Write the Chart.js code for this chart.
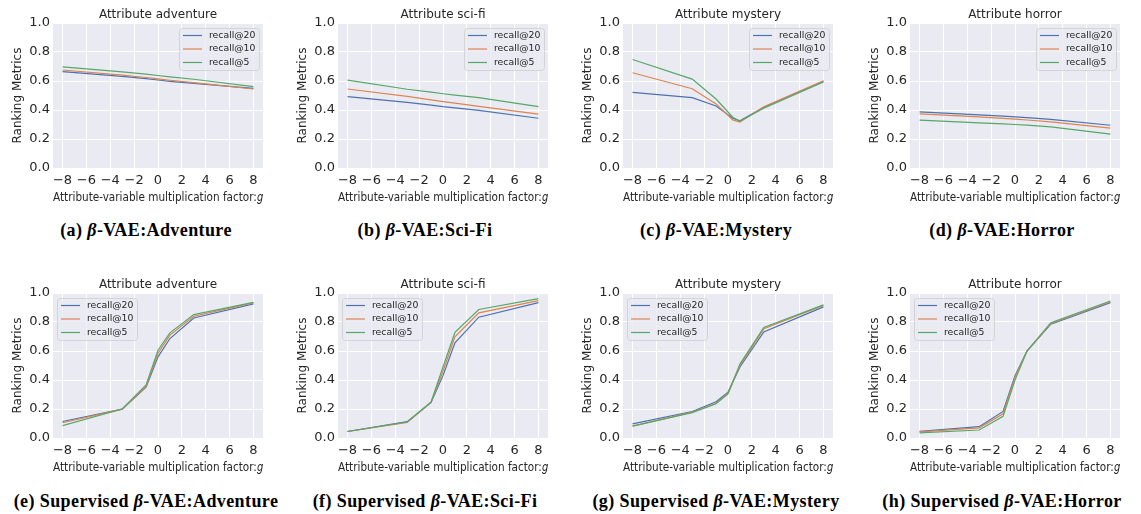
<!DOCTYPE html>
<html><head><meta charset="utf-8">
<script src="https://cdn.jsdelivr.net/npm/chart.js@4"></script>
<style>
body{margin:0;background:#fff;width:1141px;height:514px;position:relative;overflow:hidden}
.p{position:absolute;width:285px;height:205px}
.cap{position:absolute;font-family:"Liberation Serif",serif;font-weight:bold;font-size:18px;letter-spacing:0.4px;line-height:20px;color:#000;white-space:nowrap;transform:translateX(-50%)}
</style></head><body>
<script>
// ---- data ----
const xValues = [-8, -3, -1, 0, 1, 3, 8];
const xValuesVaeMystery = [-8, -3, -1, 0.4, 1, 3, 8];
const xTicks = [-8, -6, -4, -2, 0, 2, 4, 6, 8];
const yTicks = [0, 0.2, 0.4, 0.6, 0.8, 1.0];
const seriesLabels = ['recall@20', 'recall@10', 'recall@5'];
const panelTitles = ['Attribute adventure', 'Attribute sci-fi', 'Attribute mystery', 'Attribute horror'];
const captionsTop = ['(a) <i>β</i>-VAE:Adventure', '(b) <i>β</i>-VAE:Sci-Fi', '(c) <i>β</i>-VAE:Mystery', '(d) <i>β</i>-VAE:Horror'];
const captionsBottom = ['(e) Supervised <i>β</i>-VAE:Adventure', '(f) Supervised <i>β</i>-VAE:Sci-Fi', '(g) Supervised <i>β</i>-VAE:Mystery', '(h) Supervised <i>β</i>-VAE:Horror'];
const yAxisTitle = 'Ranking Metrics';
const xAxisTitle = 'Attribute-variable multiplication factor:𝑔';

const vaeAdventure20 = [0.665, 0.632, 0.617, 0.607, 0.598, 0.584, 0.549];
const vaeAdventure10 = [0.676, 0.641, 0.624, 0.614, 0.605, 0.589, 0.545];
const vaeAdventure5  = [0.697, 0.663, 0.647, 0.638, 0.629, 0.612, 0.561];

const vaeScifi20 = [0.492, 0.452, 0.434, 0.423, 0.414, 0.397, 0.343];
const vaeScifi10 = [0.545, 0.494, 0.470, 0.458, 0.447, 0.425, 0.371];
const vaeScifi5  = [0.606, 0.543, 0.523, 0.512, 0.502, 0.485, 0.423];

const vaeMystery20 = [0.522, 0.485, 0.428, 0.343, 0.325, 0.419, 0.598];
const vaeMystery10 = [0.657, 0.547, 0.442, 0.332, 0.316, 0.423, 0.602];
const vaeMystery5  = [0.748, 0.613, 0.476, 0.350, 0.323, 0.412, 0.593];

const vaeHorror20 = [0.387, 0.367, 0.358, 0.352, 0.347, 0.336, 0.295];
const vaeHorror10 = [0.373, 0.352, 0.342, 0.337, 0.331, 0.318, 0.275];
const vaeHorror5  = [0.330, 0.311, 0.304, 0.300, 0.296, 0.284, 0.233];

const supAdventure20 = [0.114, 0.199, 0.350, 0.560, 0.686, 0.828, 0.925];
const supAdventure10 = [0.105, 0.199, 0.355, 0.585, 0.710, 0.840, 0.932];
const supAdventure5  = [0.085, 0.200, 0.366, 0.605, 0.725, 0.851, 0.935];

const supScifi20 = [0.045, 0.113, 0.245, 0.430, 0.657, 0.833, 0.934];
const supScifi10 = [0.045, 0.108, 0.245, 0.460, 0.698, 0.863, 0.948];
const supScifi5  = [0.045, 0.110, 0.248, 0.490, 0.728, 0.886, 0.961];

const supMystery20 = [0.098, 0.183, 0.250, 0.315, 0.490, 0.732, 0.904];
const supMystery10 = [0.082, 0.178, 0.240, 0.310, 0.500, 0.753, 0.915];
const supMystery5  = [0.082, 0.175, 0.236, 0.305, 0.510, 0.762, 0.918];

const supHorror20 = [0.046, 0.078, 0.183, 0.430, 0.600, 0.785, 0.934];
const supHorror10 = [0.042, 0.070, 0.167, 0.420, 0.600, 0.790, 0.940];
const supHorror5  = [0.035, 0.055, 0.149, 0.400, 0.598, 0.795, 0.945];

// ---- styling ----
const colors = ['#4C72B0', '#DD8452', '#55A868'];
const colLeft = [0, 285, 570, 857];
const rowTop = [0, 270];
const capCenter = [146, 425, 716, 1002];
const capTop = [220, 491];
const FONT = '"DejaVu Sans", sans-serif';
const TXT = '#262626';

const bgPlugin = {
  id: 'bg',
  beforeDraw(chart) {
    const {ctx, chartArea: a} = chart;
    ctx.save(); ctx.fillStyle = '#EAEAF2';
    ctx.fillRect(a.left, a.top, a.right - a.left, a.bottom - a.top);
    ctx.restore();
  }
};
const titlePlugin = {
  id: 'panelTitle',
  afterDraw(chart, args, opts) {
    const ctx = chart.ctx, a = chart.chartArea;
    ctx.save();
    ctx.font = '12px ' + FONT; ctx.fillStyle = TXT;
    ctx.textAlign = 'center'; ctx.textBaseline = 'middle';
    ctx.fillText(opts.text, (a.left + a.right) / 2, a.top - 8.5);
    ctx.restore();
  }
};
const legendPlugin = {
  id: 'insideLegend',
  afterDatasetsDraw(chart, args, opts) {
    const ctx = chart.ctx, a = chart.chartArea;
    const w = 80, h = 42;
    const x = opts.side === 'right' ? a.right - 4 - w : a.left + 4;
    const y = a.top + 5;
    ctx.save();
    ctx.beginPath();
    ctx.roundRect(x + 0.5, y + 0.5, w, h, 3);
    ctx.fillStyle = 'rgba(234,234,242,0.8)';
    ctx.fill();
    ctx.strokeStyle = 'rgba(204,204,204,0.9)';
    ctx.lineWidth = 0.8;
    ctx.stroke();
    ctx.font = '9.3px ' + FONT;
    ctx.textBaseline = 'middle';
    chart.data.datasets.forEach((ds, i) => {
      const cy = y + 7.5 + i * 13.5;
      ctx.strokeStyle = ds.borderColor; ctx.lineWidth = 1.2;
      ctx.beginPath(); ctx.moveTo(x + 4, cy); ctx.lineTo(x + 23, cy); ctx.stroke();
      ctx.fillStyle = TXT; ctx.fillText(ds.label, x + 30, cy);
    });
    ctx.restore();
  }
};

function makePanel(row, col, xs, s20, s10, s5, side) {
  const cv = document.createElement('canvas');
  cv.className = 'p'; cv.width = 285; cv.height = 205;
  cv.style.left = colLeft[col] + 'px'; cv.style.top = rowTop[row] + 'px';
  document.body.appendChild(cv);
  const series = [s20, s10, s5];
  new Chart(cv, {
    type: 'line',
    data: {
      datasets: series.map((s, i) => ({
        label: seriesLabels[i],
        data: xs.map((x, j) => ({x: x, y: s[j]})),
        borderColor: colors[i], backgroundColor: colors[i],
        borderWidth: 1.2, pointRadius: 0, tension: 0, fill: false,
        order: 3 - i
      }))
    },
    options: {
      responsive: false, animation: false,
      layout: {padding: {left: 0, right: 22, top: 23, bottom: 0}},
      plugins: {
        legend: {display: false}, tooltip: {enabled: false}, title: {display: false},
        panelTitle: {text: panelTitles[col]},
        insideLegend: {side: side}
      },
      scales: {
        x: {
          type: 'linear', min: -8.8, max: 8.8,
          afterBuildTicks: s => { s.ticks = xTicks.map(v => ({value: v})); },
          afterFit: s => { s.height = 37; },
          grid: {color: '#ffffff', lineWidth: 1, drawTicks: false},
          border: {display: false},
          ticks: {autoSkip: false, maxRotation: 0, padding: 5, color: TXT,
                  font: {family: FONT, size: 13},
                  callback: v => String(v).replace('-', '\u2212')},
          title: {display: true, text: xAxisTitle, color: TXT,
                  font: {family: FONT, size: 12}, padding: {top: 2.8, bottom: 0}}
        },
        y: {
          type: 'linear', min: 0, max: 1,
          afterBuildTicks: s => { s.ticks = yTicks.map(v => ({value: v})); },
          afterFit: s => { s.width = 53; },
          grid: {color: '#ffffff', lineWidth: 1, drawTicks: false},
          border: {display: false},
          ticks: {padding: 3, color: TXT, font: {family: FONT, size: 13},
                  callback: v => Number(v).toFixed(1)},
          title: {display: true, text: yAxisTitle, color: TXT,
                  font: {family: FONT, size: 12}, padding: {top: 10.5, bottom: 0}}
        }
      }
    },
    plugins: [bgPlugin, legendPlugin, titlePlugin]
  });
}

function addCaption(row, col, html) {
  const d = document.createElement('div');
  d.className = 'cap'; d.innerHTML = html;
  d.style.left = capCenter[col] + 'px'; d.style.top = capTop[row] + 'px';
  document.body.appendChild(d);
}

makePanel(0, 0, xValues, vaeAdventure20, vaeAdventure10, vaeAdventure5, 'right');
makePanel(0, 1, xValues, vaeScifi20, vaeScifi10, vaeScifi5, 'right');
makePanel(0, 2, xValuesVaeMystery, vaeMystery20, vaeMystery10, vaeMystery5, 'right');
makePanel(0, 3, xValues, vaeHorror20, vaeHorror10, vaeHorror5, 'right');
makePanel(1, 0, xValues, supAdventure20, supAdventure10, supAdventure5, 'left');
makePanel(1, 1, xValues, supScifi20, supScifi10, supScifi5, 'left');
makePanel(1, 2, xValues, supMystery20, supMystery10, supMystery5, 'left');
makePanel(1, 3, xValues, supHorror20, supHorror10, supHorror5, 'left');
captionsTop.forEach((c, i) => addCaption(0, i, c));
captionsBottom.forEach((c, i) => addCaption(1, i, c));
</script>
</body></html>
